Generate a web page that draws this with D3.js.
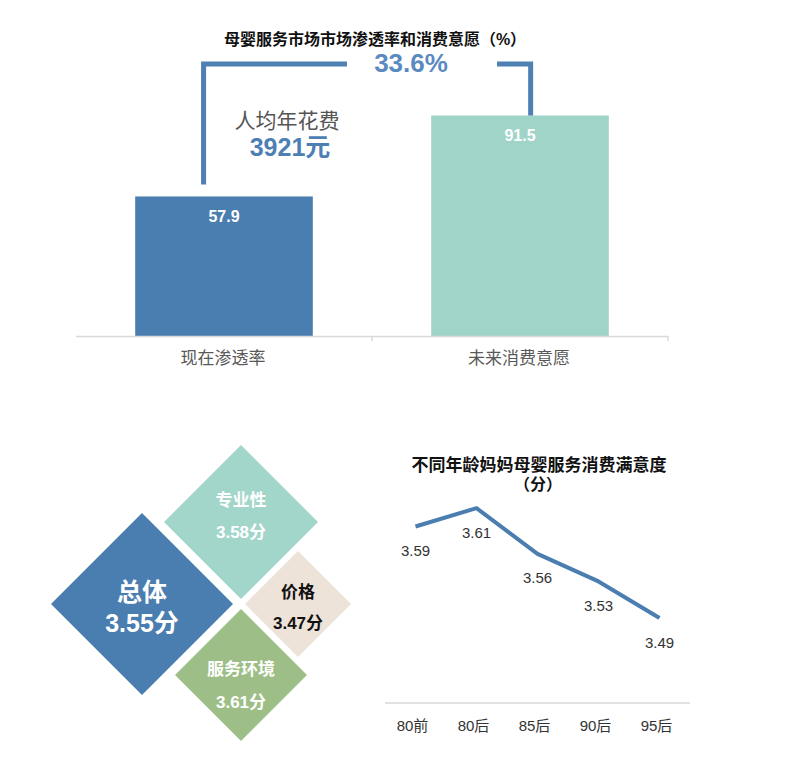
<!DOCTYPE html>
<html><head><meta charset="utf-8">
<script src="https://cdn.jsdelivr.net/npm/d3@7/dist/d3.min.js"></script>
<style>
html,body{margin:0;padding:0;background:#fff;}
text{font-family:"Liberation Sans","Noto Sans CJK SC",sans-serif;}
</style></head>
<body>
<svg id="c" width="793" height="763"></svg>
<script>
// ---- data ----
const barTitle = "母婴服务市场市场渗透率和消费意愿（%）";
const barCategories = ["现在渗透率", "未来消费意愿"];
const barValues = [57.9, 91.5];
const spendLabel = "人均年花费";
const spendValue = 3921;
const dimNames = ["总体", "专业性", "价格", "服务环境"];
const dimScores = [3.55, 3.58, 3.47, 3.61];
const lineTitle = ["不同年龄妈妈母婴服务消费满意度", "（分）"];
const ageGroups = ["80前", "80后", "85后", "90后", "95后"];
const ageScores = [3.59, 3.61, 3.56, 3.53, 3.49];

const svg = d3.select("#c");
const blue = "#4a7db0";

// ---- top bar chart ----
const x = d3.scaleBand().domain(barCategories).range([76, 668]).paddingInner(0.4).paddingOuter(0.2);
const y = d3.scaleLinear().domain([0, 100]).range([336, 95]);
const barColors = ["#4a7db0", "#a0d4c8"];

svg.append("text").attr("x", 375).attr("y", 39).attr("text-anchor", "middle")
  .attr("dominant-baseline", "central").attr("font-size", 16).attr("font-weight", "bold")
  .attr("fill", "#111").text(barTitle);

svg.selectAll(".bar").data(barValues).enter().append("rect")
  .attr("x", (d, i) => x(barCategories[i]))
  .attr("y", d => y(d))
  .attr("width", x.bandwidth())
  .attr("height", d => y(0) - y(d))
  .attr("fill", (d, i) => barColors[i]);

svg.selectAll(".bv").data(barValues).enter().append("text")
  .attr("x", (d, i) => x(barCategories[i]) + x.bandwidth() / 2)
  .attr("y", d => y(d) + 20)
  .attr("text-anchor", "middle").attr("dominant-baseline", "central")
  .attr("font-size", 16).attr("font-weight", "bold").attr("fill", "#fff")
  .text(d => d.toFixed(1));

// axis
const ax = svg.append("g");
ax.append("line").attr("x1", x.range()[0]).attr("x2", x.range()[1]).attr("y1", y(0) + 0.5).attr("y2", y(0) + 0.5)
  .attr("stroke", "#d9d9d9").attr("stroke-width", 1.5);
const bounds = [x.range()[0] + x.step() * 1, x.range()[1]];
bounds.forEach(b => ax.append("line").attr("x1", b).attr("x2", b).attr("y1", y(0)).attr("y2", y(0) + 5)
  .attr("stroke", "#d9d9d9").attr("stroke-width", 1.5));
svg.selectAll(".cl").data(barCategories).enter().append("text")
  .attr("x", d => x(d) + x.bandwidth() / 2 - 1)
  .attr("y", 358).attr("text-anchor", "middle").attr("dominant-baseline", "central")
  .attr("font-size", 17).attr("fill", "#595959").text(d => d);

// bracket annotation
const diff = barValues[1] - barValues[0];
const lx = x(barCategories[0]) + x.bandwidth() * 0.385;
const rx = x(barCategories[1]) + x.bandwidth() * 0.56;
const ty = 64;
const bstroke = { stroke: "#4e80b4", "stroke-width": 5, fill: "none" };
const p1 = svg.append("path").attr("d", `M${lx},${y(barValues[0]) - 12}V${ty}H347`);
const p2 = svg.append("path").attr("d", `M497,${ty}H${rx}V${y(barValues[1])}`);
[p1, p2].forEach(p => Object.entries(bstroke).forEach(([k, v]) => p.attr(k, v)));
svg.append("text").attr("x", 411).attr("y", 63).attr("text-anchor", "middle")
  .attr("dominant-baseline", "central").attr("font-size", 26).attr("font-weight", "bold")
  .attr("fill", "#5a8ac0").text(diff.toFixed(1) + "%");
svg.append("text").attr("x", 287).attr("y", 120).attr("text-anchor", "middle")
  .attr("dominant-baseline", "central").attr("font-size", 21).attr("fill", "#555")
  .text(spendLabel);
svg.append("text").attr("x", 290).attr("y", 147).attr("text-anchor", "middle")
  .attr("dominant-baseline", "central").attr("font-size", 25).attr("font-weight", "bold")
  .attr("fill", "#4d7fb5").text(spendValue + "元");

// ---- diamonds ----
const diamondLayout = [
  { cx: 142, cy: 604, r: 91, fill: "#4a7db0", color: "#fff", fs: 25, dy: [-12, 19] },
  { cx: 241, cy: 522, r: 77, fill: "#a3d6cb", color: "#fff", fs: 17, dy: [-22, 10] },
  { cx: 298, cy: 604, r: 53, fill: "#ede3d9", color: "#111", fs: 17, dy: [-12, 19] },
  { cx: 241, cy: 675, r: 66, fill: "#9dbf87", color: "#fff", fs: 17, dy: [-6, 27] }
];
const dg = svg.selectAll(".dm").data(dimNames).enter().append("g");
dg.append("path")
  .attr("d", (d, i) => { const L = diamondLayout[i]; return `M${L.cx},${L.cy - L.r}L${L.cx + L.r},${L.cy}L${L.cx},${L.cy + L.r}L${L.cx - L.r},${L.cy}Z`; })
  .attr("fill", (d, i) => diamondLayout[i].fill);
dg.append("text")
  .attr("x", (d, i) => diamondLayout[i].cx).attr("y", (d, i) => diamondLayout[i].cy + diamondLayout[i].dy[0])
  .attr("text-anchor", "middle").attr("dominant-baseline", "central")
  .attr("font-size", (d, i) => diamondLayout[i].fs).attr("font-weight", "bold")
  .attr("fill", (d, i) => diamondLayout[i].color).text(d => d);
dg.append("text")
  .attr("x", (d, i) => diamondLayout[i].cx).attr("y", (d, i) => diamondLayout[i].cy + diamondLayout[i].dy[1])
  .attr("text-anchor", "middle").attr("dominant-baseline", "central")
  .attr("font-size", (d, i) => diamondLayout[i].fs).attr("font-weight", "bold")
  .attr("fill", (d, i) => diamondLayout[i].color).text((d, i) => dimScores[i].toFixed(2) + "分");

// ---- line chart ----
const lx2 = d3.scalePoint().domain(ageGroups).range([385, 690]).padding(0.5);
const ly2 = d3.scaleLinear().domain([3.4, 3.65]).range([700.5, 471.5]);
svg.append("text").attr("x", 539).attr("y", 465).attr("text-anchor", "middle")
  .attr("dominant-baseline", "central").attr("font-size", 17).attr("font-weight", "bold")
  .attr("fill", "#111").text(lineTitle[0]);
svg.append("text").attr("x", 538).attr("y", 484).attr("text-anchor", "middle")
  .attr("dominant-baseline", "central").attr("font-size", 16).attr("font-weight", "bold")
  .attr("fill", "#111").text(lineTitle[1]);
svg.append("path").datum(ageScores)
  .attr("d", d3.line().x((d, i) => lx2(ageGroups[i])).y(d => ly2(d)))
  .attr("fill", "none").attr("stroke", blue).attr("stroke-width", 4).attr("stroke-linejoin", "round");
svg.selectAll(".lv").data(ageScores).enter().append("text")
  .attr("x", (d, i) => lx2(ageGroups[i])).attr("y", d => ly2(d) + 24)
  .attr("text-anchor", "middle").attr("dominant-baseline", "central")
  .attr("font-size", 15).attr("fill", "#333").text(d => d.toFixed(2));
svg.append("line").attr("x1", 385).attr("x2", 690).attr("y1", 703).attr("y2", 703)
  .attr("stroke", "#d9d9d9").attr("stroke-width", 1.5);
svg.selectAll(".xl").data(ageGroups).enter().append("text")
  .attr("x", d => lx2(d) - 3).attr("y", 725).attr("text-anchor", "middle")
  .attr("dominant-baseline", "central").attr("font-size", 15).attr("fill", "#333").text(d => d);
</script>
</body></html>
